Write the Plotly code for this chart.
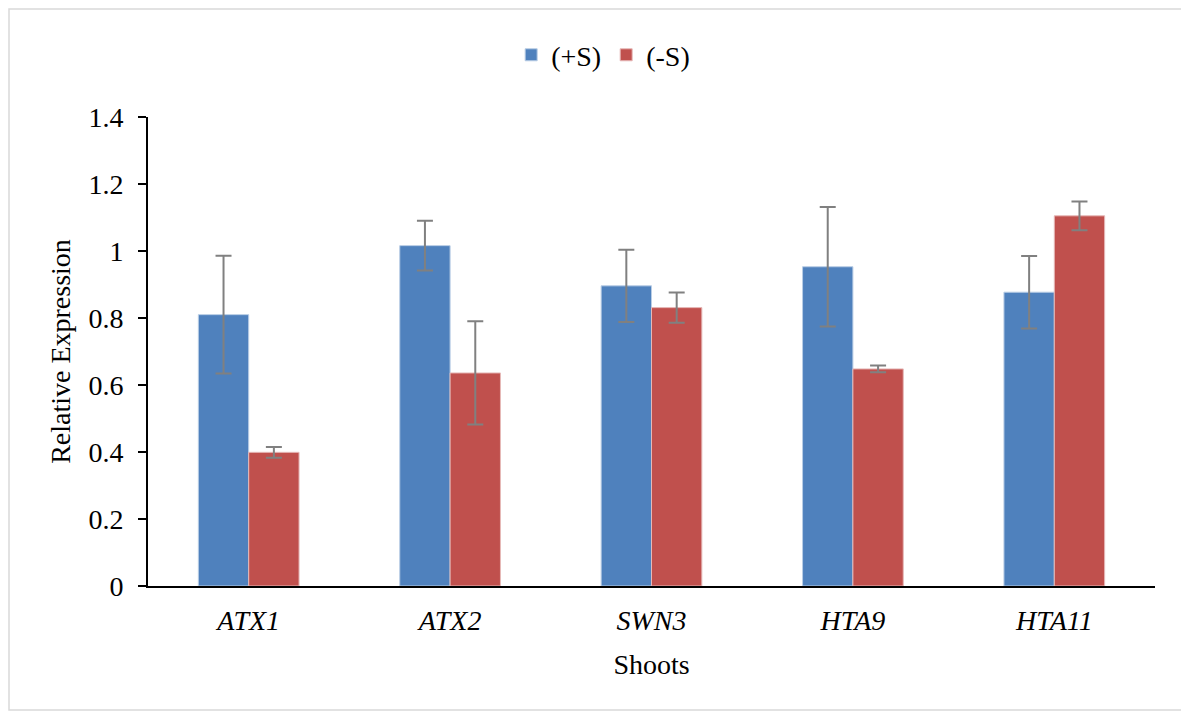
import plotly.graph_objects as go

genes = ["ATX1", "ATX2", "SWN3", "HTA9", "HTA11"]
plus_s = [0.81, 1.016, 0.896, 0.953, 0.877]
plus_s_err = [0.176, 0.074, 0.108, 0.178, 0.108]
minus_s = [0.399, 0.636, 0.831, 0.648, 1.105]
minus_s_err = [0.016, 0.154, 0.045, 0.01, 0.043]
y_ticks = [0, 0.2, 0.4, 0.6, 0.8, 1.0, 1.2, 1.4]
y_tick_text = ["0", "0.2", "0.4", "0.6", "0.8", "1", "1.2", "1.4"]

FAM = "Liberation Serif"
cat_labels = [f"<i>{g}</i>" for g in genes]

err_style = dict(type="data", color="#808080", thickness=2, width=8)

fig = go.Figure()
fig.add_trace(go.Bar(
    name="(+S)", x=cat_labels, y=plus_s,
    marker=dict(color="#4F81BD", line=dict(color="#B9CDE5", width=1)),
    error_y=dict(array=plus_s_err, **err_style),
))
fig.add_trace(go.Bar(
    name="(-S)", x=cat_labels, y=minus_s,
    marker=dict(color="#C0504D", line=dict(color="#E6B9B8", width=1)),
    error_y=dict(array=minus_s_err, **err_style),
))

L, R, T, B = 140, 1147, 109, 578
W, H = 1181, 707
fnt = dict(family=FAM, size=28, color="black")
fig.update_layout(
    width=W, height=H,
    margin=dict(l=L, r=W - R, t=T, b=H - B),
    paper_bgcolor="white", plot_bgcolor="white",
    barmode="group", bargap=0.5, bargroupgap=0,
    font=fnt,
    legend=dict(orientation="h", x=0.452, xanchor="center", y=1.132, yanchor="middle",
                font=fnt, itemwidth=30, traceorder="normal"),
    showlegend=True,
)
fig.update_xaxes(
    showline=True, linecolor="black", linewidth=2, ticks="", showgrid=False,
    tickfont=fnt, ticklabelstandoff=8,
    title=dict(text="Shoots", font=fnt, standoff=20),
)
fig.update_yaxes(
    range=[0, 1.4], tickvals=y_ticks, ticktext=y_tick_text,
    showline=True, linecolor="black", linewidth=2, ticks="outside", ticklen=8,
    tickcolor="black", tickwidth=2, showgrid=False, zeroline=False,
    tickfont=fnt, ticklabelstandoff=9,
    title=dict(text="Relative Expression", font=fnt, standoff=10),
)

pw, ph = R - L, B - T
fig.add_shape(type="rect", xref="paper", yref="paper",
              x0=(1 - L) / pw, x1=(W + 40 - L) / pw,
              y0=(B - 702) / ph, y1=(B - 1) / ph,
              line=dict(color="#D9D9D9", width=1.5), layer="below")

fig.write_html("out.html")
